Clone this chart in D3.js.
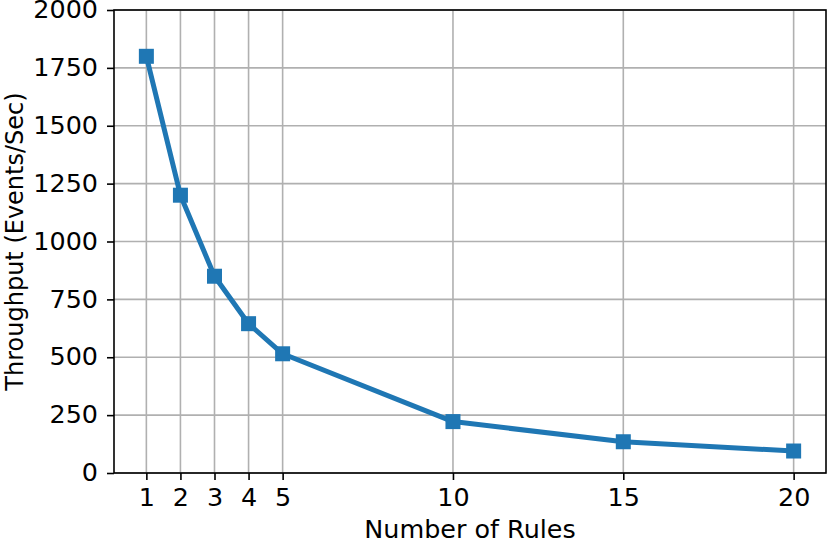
<!DOCTYPE html>
<html>
<head>
<meta charset="utf-8">
<script src="https://cdn.jsdelivr.net/npm/d3@7"></script>
<style>
  body { margin: 0; background: #fff; }
  text { font-family: "DejaVu Sans", sans-serif; }
</style>
</head>
<body>
<script>
// data
const rules = [1, 2, 3, 4, 5, 10, 15, 20];
const throughput = [1800, 1200, 850, 645, 515, 222, 135, 95];
const yTicks = [0, 250, 500, 750, 1000, 1250, 1500, 1750, 2000];

const width = 830, height = 541;
const margin = {top: 10, right: 4, bottom: 68, left: 114};

const svg = d3.select("body").append("svg")
  .attr("width", width)
  .attr("height", height);

const x = d3.scaleLinear()
  .domain([0.05, 20.95])
  .range([margin.left, width - margin.right]);
const y = d3.scaleLinear()
  .domain([0, 2000])
  .range([height - margin.bottom, margin.top]);

const fontSize = 24;
const stretch = 1.06; // the picture is a little wider than tall

// grid
svg.append("g").selectAll("line.gx")
  .data(rules).enter().append("line")
  .attr("x1", d => x(d)).attr("x2", d => x(d))
  .attr("y1", y(0)).attr("y2", y(2000))
  .attr("stroke", "#b0b0b0").attr("stroke-width", 1.6);
svg.append("g").selectAll("line.gy")
  .data(yTicks).enter().append("line")
  .attr("x1", x.range()[0]).attr("x2", x.range()[1])
  .attr("y1", d => y(d)).attr("y2", d => y(d))
  .attr("stroke", "#b0b0b0").attr("stroke-width", 1.6);

// axes
const xAxis = svg.append("g")
  .attr("transform", "translate(0," + y(0) + ")")
  .call(d3.axisBottom(x).tickValues(rules).tickSize(7).tickPadding(9).tickFormat(d3.format("d")));
const yAxis = svg.append("g")
  .attr("transform", "translate(" + x.range()[0] + ",0)")
  .call(d3.axisLeft(y).tickValues(yTicks).tickSize(7).tickPadding(9).tickFormat(d3.format("d")));

[xAxis, yAxis].forEach(g => {
  g.select(".domain").remove();
  g.selectAll(".tick line").attr("stroke", "#000").attr("stroke-width", 1.6);
  g.selectAll(".tick text").each(function() {
    const t = d3.select(this);
    const tx = +t.attr("x") || 0;
    t.attr("x", 0)
      .attr("transform", "translate(" + tx + ",0) scale(" + stretch + ",1)")
      .attr("font-size", fontSize).attr("fill", "#000")
      .style("font-family", "DejaVu Sans");
  });
});

// frame
svg.append("rect")
  .attr("x", x.range()[0]).attr("y", y(2000))
  .attr("width", x.range()[1] - x.range()[0])
  .attr("height", y(0) - y(2000))
  .attr("fill", "none").attr("stroke", "#000").attr("stroke-width", 1.6);

// line
const pts = rules.map((r, i) => [r, throughput[i]]);
svg.append("path")
  .datum(pts)
  .attr("fill", "none")
  .attr("stroke", "#1f77b4")
  .attr("stroke-width", 5)
  .attr("stroke-linejoin", "round")
  .attr("stroke-linecap", "round")
  .attr("d", d3.line().x(d => x(d[0])).y(d => y(d[1])));

const ms = 15;
svg.append("g").selectAll("rect")
  .data(pts).enter().append("rect")
  .attr("x", d => x(d[0]) - ms / 2)
  .attr("y", d => y(d[1]) - ms / 2)
  .attr("width", ms).attr("height", ms)
  .attr("fill", "#1f77b4");

// labels
svg.append("text")
  .attr("transform", "translate(" + (x.range()[0] + x.range()[1]) / 2 + "," + (height - 3) + ") scale(" + stretch + ",1)")
  .attr("text-anchor", "middle")
  .attr("font-size", fontSize)
  .text("Number of Rules");

svg.append("text")
  .attr("transform", "translate(23," + (y(0) + y(2000)) / 2 + ") rotate(-90)")
  .attr("text-anchor", "middle")
  .attr("font-size", fontSize)
  .text("Throughput (Events/Sec)");
</script>
</body>
</html>
